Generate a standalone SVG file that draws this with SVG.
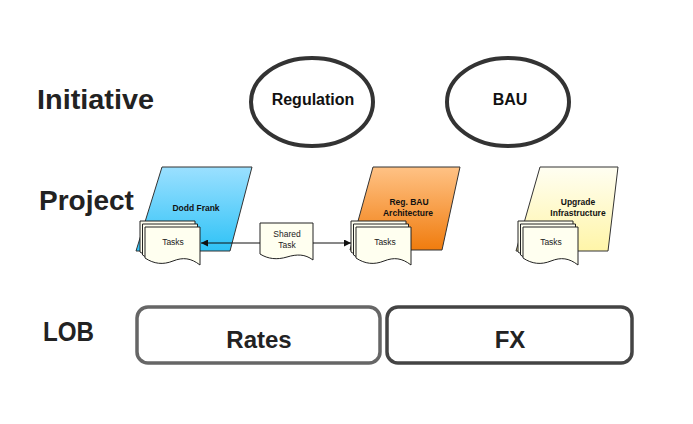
<svg xmlns="http://www.w3.org/2000/svg" width="693" height="424" viewBox="0 0 693 424">
<defs>
<linearGradient id="gBlue" x1="0" y1="0" x2="0" y2="1"><stop offset="0" stop-color="#9be0ff"/><stop offset="1" stop-color="#2ec2f6"/></linearGradient>
<linearGradient id="gOrange" x1="0" y1="0" x2="0" y2="1"><stop offset="0" stop-color="#ffc285"/><stop offset="1" stop-color="#f07c0e"/></linearGradient>
<linearGradient id="gYellow" x1="0" y1="0" x2="0" y2="1"><stop offset="0" stop-color="#fffef2"/><stop offset="1" stop-color="#fff5a8"/></linearGradient>
<path id="doc" d="M0,0 H55 V38 C46,31 38,30 28,34 C18,38 9,37 0,31 Z"/>
<marker id="arr" viewBox="0 0 10 10" refX="10" refY="5" markerWidth="7" markerHeight="7" orient="auto-start-reverse" markerUnits="userSpaceOnUse"><path d="M0,0 L10,5 L0,10 Z" fill="#111"/></marker>
</defs>
<style>
.lbl{font-family:"Liberation Sans",Arial,sans-serif;font-weight:bold;font-size:28px;fill:#222}
.ell{fill:#fff;stroke:#333;stroke-width:4}
.et{font-family:"Liberation Sans",Arial,sans-serif;font-weight:bold;font-size:16px;fill:#111;text-anchor:middle}
.para{stroke:#333;stroke-width:1;stroke-linejoin:round}
.pt{font-family:"Liberation Sans",Arial,sans-serif;font-weight:bold;font-size:8.5px;fill:#111;text-anchor:middle}
.d{fill:#fffff0;stroke:#222;stroke-width:1}
.dt{font-family:"Liberation Sans",Arial,sans-serif;font-size:8.5px;fill:#222;text-anchor:middle}
.lob{fill:#fff;stroke-width:3.5}
.lt{font-family:"Liberation Sans",Arial,sans-serif;font-weight:bold;font-size:24px;fill:#222;text-anchor:middle}
.con{stroke:#111;stroke-width:1;fill:none}
</style>
<rect width="693" height="424" fill="#fff"/>
<g id="labels">
<text class="lbl" x="37" y="109" textLength="117" lengthAdjust="spacingAndGlyphs">Initiative</text>
<text class="lbl" x="39" y="210">Project</text>
<text class="lbl" x="43" y="341" textLength="51" lengthAdjust="spacingAndGlyphs">LOB</text>
</g>
<g id="regulation"><ellipse class="ell" cx="312" cy="102" rx="61" ry="44"/><text class="et" x="313" y="105">Regulation</text></g>
<g id="bau"><ellipse class="ell" cx="508" cy="102" rx="61" ry="44"/><text class="et" x="510" y="105">BAU</text></g>
<g id="doddfrank"><path class="para" fill="url(#gBlue)" d="M162,167 H252 L230,251 H136 Z"/><text class="pt" x="196" y="211">Dodd Frank</text></g>
<g id="regbau"><path class="para" fill="url(#gOrange)" d="M373,167 H460 L442,250 H350 Z"/><text class="pt" x="409" y="205">Reg. BAU</text><text class="pt" x="408" y="216">Architecture</text></g>
<g id="upgrade"><path class="para" fill="url(#gYellow)" d="M540,167 H618 L608,251 H516 Z"/><text class="pt" x="578" y="205">Upgrade</text><text class="pt" x="578" y="216">Infrastructure</text></g>
<g id="tasks1"><use href="#doc" class="d" x="140" y="221"/><use href="#doc" class="d" x="142.5" y="224"/><use href="#doc" class="d" x="145" y="227"/><text class="dt" x="173" y="245">Tasks</text></g>
<g id="tasks2"><use href="#doc" class="d" x="351" y="221"/><use href="#doc" class="d" x="353.5" y="224"/><use href="#doc" class="d" x="356" y="227"/><text class="dt" x="385" y="245">Tasks</text></g>
<g id="tasks3"><use href="#doc" class="d" x="518" y="221"/><use href="#doc" class="d" x="520.5" y="224"/><use href="#doc" class="d" x="523" y="227"/><text class="dt" x="551" y="245">Tasks</text></g>
<g id="sharedtask"><path class="d" d="M260,223 H313 V260 C305,254 297,254 287,257 C277,260 268,259 260,254 Z"/><text class="dt" x="287" y="237">Shared</text><text class="dt" x="287" y="248">Task</text></g>
<g id="connectors">
<line class="con" x1="260" y1="243" x2="201" y2="243" marker-end="url(#arr)"/>
<line class="con" x1="313" y1="243" x2="351" y2="243" marker-end="url(#arr)"/>
</g>
<g id="rates"><rect class="lob" stroke="#666" x="137" y="307" width="243" height="56" rx="11"/><text class="lt" x="259" y="348">Rates</text></g>
<g id="fx"><rect class="lob" stroke="#444" x="387" y="307" width="245" height="56" rx="11"/><text class="lt" x="510" y="348">FX</text></g>
</svg>
